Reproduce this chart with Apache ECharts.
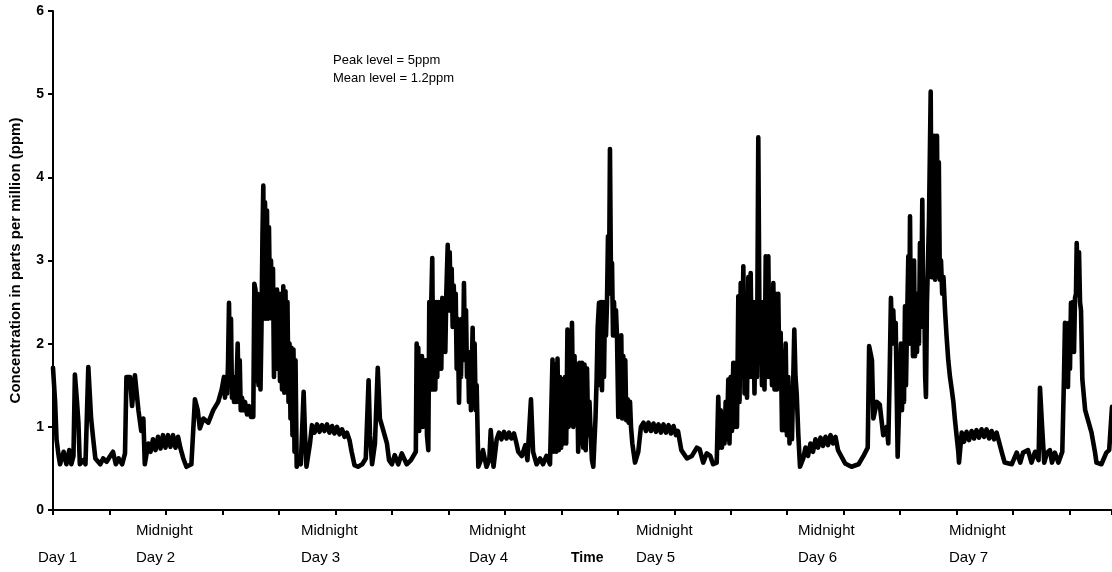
<!DOCTYPE html>
<html>
<head>
<meta charset="utf-8">
<script src="https://cdn.jsdelivr.net/npm/echarts@6/dist/echarts.min.js"></script>
<style>
html,body{margin:0;padding:0;background:#fff;}
#chart{width:1112px;height:572px;}
</style>
</head>
<body>
<div id="chart"></div>
<script>
// [hours since start of record, concentration in ppm]
const readings0to13 = [[0.0,1.71],[0.3,1.3],[0.5,0.85],[0.8,0.65],[1.0,0.55],[1.5,0.7],[1.9,0.55],[2.3,0.72],[2.6,0.55],[2.9,0.65],[3.1,1.63],[3.4,1.3],[3.6,1.05],[3.8,0.55],[4.3,0.6],[4.6,0.55],[5.0,1.72],[5.4,1.1],[5.7,0.85],[6.0,0.62],[6.7,0.55],[7.1,0.62],[7.6,0.58],[8.1,0.65],[8.5,0.7],[8.9,0.55],[9.3,0.62],[9.8,0.55],[10.2,0.68],[10.4,1.6],[10.9,1.6],[11.2,1.25],[11.6,1.62],[12.1,1.2],[12.5,0.95],[12.8,1.1],[13.0,0.55]];
const readings13to24 = [[13.5,0.8],[13.81,0.7],[14.16,0.85],[14.52,0.72],[14.87,0.88],[15.23,0.74],[15.58,0.9],[15.93,0.75],[16.29,0.9],[16.64,0.76],[17.0,0.9],[17.35,0.75],[17.71,0.88],[18.06,0.74],[18.46,0.62],[18.9,0.52],[19.6,0.55],[20.1,1.33],[20.5,1.2],[20.8,0.98],[21.3,1.1],[22.0,1.05],[22.7,1.2],[23.4,1.3],[23.9,1.45]];
const readings24to28 = [[24.22,1.6],[24.36,1.35],[24.5,1.6],[24.65,1.4],[24.79,1.75],[24.93,2.49],[25.07,1.5],[25.21,2.3],[25.35,1.35],[25.5,1.6],[25.64,1.3],[25.78,1.6],[25.92,1.3],[26.16,2.0],[26.3,1.3],[26.45,1.8],[26.59,1.2],[26.77,1.35],[26.95,1.2],[27.2,1.3],[27.48,1.15],[27.76,1.25],[28.04,1.12]];
const readings28to35 = [[28.37,1.12],[28.52,2.72],[28.68,2.65],[28.82,1.55],[28.97,2.6],[29.11,1.5],[29.25,2.55],[29.39,1.45],[29.53,2.2],[29.67,3.3],[29.79,3.9],[29.89,2.3],[30.03,3.7],[30.17,2.3],[30.31,3.6],[30.45,2.3],[30.59,3.4],[30.74,2.4],[30.88,3.0],[31.02,2.3],[31.16,2.9],[31.3,1.6],[31.44,2.5],[31.59,1.8],[31.73,2.65],[31.87,1.7],[32.01,2.6],[32.15,1.55],[32.29,2.6],[32.44,1.45],[32.62,2.69],[32.76,1.41],[32.93,2.63],[33.07,1.45],[33.21,2.5],[33.36,1.3],[33.5,2.0],[33.64,1.1],[33.78,1.95],[33.92,0.9],[34.06,1.93],[34.21,0.7],[34.35,1.8],[34.52,0.52]];
const readings35to51 = [[34.8,0.6],[35.1,0.55],[35.5,1.42],[35.7,0.9],[35.9,0.52],[36.4,0.8],[36.68,1.02],[37.04,0.93],[37.39,1.03],[37.75,0.94],[38.1,1.02],[38.45,0.95],[38.81,1.03],[39.16,0.93],[39.52,1.01],[39.87,0.92],[40.22,1.0],[40.58,0.91],[40.94,0.97],[41.29,0.88],[41.64,0.93],[42.0,0.84],[42.3,0.7],[42.7,0.54],[43.2,0.52],[43.8,0.55],[44.3,0.62],[44.7,1.56],[44.9,0.9],[45.2,0.55],[45.6,0.8],[46.0,1.71],[46.3,1.1],[46.8,0.95],[47.3,0.8],[47.6,0.6],[48.0,0.55],[48.4,0.66],[48.9,0.55],[49.4,0.68],[50.1,0.55],[50.7,0.6]];
const readings51to60 = [[51.39,0.7],[51.51,2.0],[51.63,1.1],[51.74,1.95],[51.87,0.95],[52.01,1.85],[52.12,1.0],[52.26,1.85],[52.41,1.0],[52.55,1.8],[52.69,1.1],[52.83,1.8],[52.97,0.9],[53.16,0.72],[53.3,2.5],[53.44,1.45],[53.58,2.5],[53.72,3.03],[53.86,1.45],[54.01,2.5],[54.15,1.45],[54.29,2.5],[54.43,1.6],[54.57,2.5],[54.72,1.7],[54.86,2.5],[55.0,1.7],[55.14,2.55],[55.28,1.9],[55.42,2.5],[55.57,1.9],[55.71,2.6],[55.91,3.19],[56.05,2.4],[56.19,3.1],[56.33,2.4],[56.47,2.9],[56.61,2.2],[56.76,2.7],[56.9,2.3],[57.04,2.6],[57.18,1.7],[57.32,2.3],[57.51,1.29],[57.65,2.0],[57.79,1.6],[57.93,2.3],[58.07,1.8],[58.21,2.73],[58.36,1.8],[58.5,2.4],[58.64,1.6],[58.78,1.9],[58.92,1.3],[59.06,1.9],[59.2,1.2],[59.44,2.19],[59.58,1.3],[59.72,2.0],[59.87,1.2],[60.01,1.5],[60.24,0.52]];
const readings60to70 = [[60.6,0.6],[60.9,0.72],[61.4,0.52],[61.8,0.6],[62.0,0.96],[62.4,0.52],[62.85,0.85],[63.17,0.93],[63.52,0.85],[63.88,0.94],[64.23,0.86],[64.59,0.93],[64.94,0.86],[65.3,0.92],[65.65,0.8],[65.9,0.7],[66.4,0.65],[66.9,0.78],[67.2,0.6],[67.7,1.33],[68.0,0.7],[68.5,0.55],[69.0,0.62],[69.4,0.55],[69.9,0.65],[70.4,0.55]];
const readings70to77 = [[70.75,1.81],[70.92,0.7],[71.1,1.75],[71.27,0.7],[71.46,1.82],[71.63,0.72],[71.81,1.6],[71.98,0.75],[72.17,1.57],[72.34,0.8],[72.52,1.6],[72.69,0.8],[72.87,2.17],[73.04,1.0],[73.23,2.0],[73.4,1.2],[73.51,2.25],[73.68,1.0],[73.87,1.85],[74.04,1.1],[74.22,1.75],[74.39,0.7],[74.57,1.77],[74.74,0.8],[74.93,1.77],[75.1,0.75],[75.28,1.75],[75.45,0.72],[75.64,1.7],[75.81,0.9],[75.99,1.3],[76.16,0.9],[76.34,0.6],[76.53,0.52]];
const readings77to82 = [[76.84,1.1],[77.01,1.6],[77.15,2.2],[77.34,2.49],[77.48,1.5],[77.62,2.5],[77.76,1.44],[77.9,2.5],[78.04,1.6],[78.19,2.5],[78.33,2.1],[78.47,2.5],[78.61,3.29],[78.75,2.6],[78.89,4.34],[79.04,2.7],[79.18,2.97],[79.32,2.1],[79.46,2.5],[79.6,2.1],[79.74,2.4],[79.89,2.08],[80.07,1.12],[80.21,2.0],[80.35,1.2],[80.49,2.1],[80.63,1.1],[80.78,1.85],[80.92,1.1],[81.06,1.8],[81.2,1.08],[81.4,1.33],[81.54,1.05],[81.73,1.3],[81.87,1.0],[82.06,0.8],[82.44,0.57]];
const readings82to94 = [[82.9,0.7],[83.28,1.0],[83.64,1.05],[83.99,0.95],[84.34,1.05],[84.7,0.95],[85.05,1.04],[85.41,0.94],[85.76,1.03],[86.11,0.93],[86.47,1.03],[86.82,0.93],[87.18,1.02],[87.53,0.92],[87.89,1.01],[88.24,0.9],[88.52,0.95],[89.0,0.72],[89.8,0.62],[90.5,0.65],[91.2,0.75],[91.6,0.73],[92.1,0.57],[92.6,0.68],[93.1,0.65],[93.5,0.55],[94.01,0.57]];
const readings94to106 = [[94.23,1.36],[94.4,0.75],[94.57,1.2],[94.75,0.75],[94.94,1.17],[95.11,0.8],[95.28,1.3],[95.46,0.85],[95.65,1.57],[95.82,0.8],[95.99,1.6],[96.17,0.95],[96.36,1.77],[96.53,1.0],[96.7,1.77],[96.88,1.0],[97.07,2.57],[97.24,1.3],[97.41,2.73],[97.59,1.64],[97.78,2.93],[97.95,1.4],[98.12,2.5],[98.3,1.35],[98.49,2.8],[98.66,1.6],[98.82,2.85],[99.01,1.6],[99.19,2.5],[99.36,1.4],[99.53,2.5],[99.71,1.6],[99.9,4.48],[100.07,2.2],[100.24,2.5],[100.42,1.5],[100.61,2.5],[100.78,1.45],[100.95,3.05],[101.13,1.6],[101.32,3.05],[101.49,1.6],[101.66,2.6],[101.84,1.5],[102.03,2.73],[102.2,1.45],[102.37,2.6],[102.55,1.45],[102.73,2.6],[102.9,1.5],[103.07,2.13],[103.26,0.96],[103.44,1.9],[103.61,0.96],[103.78,2.0],[103.96,0.9],[104.15,1.6],[104.32,0.8],[104.49,1.2],[104.67,0.85],[105.0,2.17],[105.17,1.6],[105.34,1.4],[105.57,0.9],[105.81,0.52]];
const readings106to118 = [[106.27,0.62],[106.58,0.75],[106.94,0.65],[107.29,0.8],[107.65,0.7],[108.0,0.85],[108.36,0.75],[108.71,0.87],[109.06,0.77],[109.42,0.88],[109.77,0.78],[110.13,0.9],[110.48,0.8],[110.84,0.88],[111.19,0.72],[111.5,0.67],[112.2,0.56],[113.1,0.52],[114.1,0.55],[114.8,0.65],[115.4,0.75],[115.6,1.97],[116.0,1.8],[116.2,1.1],[116.7,1.3],[117.1,1.27],[117.6,0.9],[118.1,1.0]];
const readings118to128 = [[118.31,0.8],[118.48,1.5],[118.69,2.55],[118.86,2.0],[119.02,2.4],[119.19,2.0],[119.36,2.25],[119.64,0.64],[119.83,1.2],[119.97,1.6],[120.11,2.0],[120.25,1.2],[120.39,1.6],[120.54,1.3],[120.68,2.45],[120.82,1.5],[120.96,2.2],[121.15,3.05],[121.27,2.0],[121.39,3.53],[121.53,2.0],[121.67,2.6],[121.81,1.85],[121.96,3.0],[122.1,1.85],[122.24,2.6],[122.38,1.9],[122.52,2.6],[122.66,2.0],[122.8,3.21],[122.95,2.2],[123.13,3.73],[123.27,2.2],[123.41,2.6],[123.54,1.6],[123.65,1.36],[123.79,2.5],[123.94,3.0],[124.08,3.5],[124.32,5.03],[124.46,2.8],[124.6,3.2],[124.71,2.8],[124.83,4.5],[124.95,2.77],[125.07,3.5],[125.21,4.5],[125.35,3.0],[125.47,4.18],[125.61,2.77],[125.78,3.0],[125.95,2.6],[126.13,2.8],[126.35,2.4],[126.56,2.1],[126.81,1.8],[127.05,1.6],[127.3,1.45],[127.53,1.3],[127.76,1.08],[128.23,0.7],[128.33,0.57]];
const readings128to142 = [[128.71,0.93],[129.04,0.82],[129.4,0.94],[129.75,0.84],[130.11,0.95],[130.46,0.86],[130.81,0.96],[131.17,0.87],[131.52,0.97],[131.88,0.88],[132.23,0.97],[132.59,0.86],[132.94,0.95],[133.3,0.85],[133.65,0.93],[134.0,0.82],[134.4,0.69],[134.8,0.57],[135.8,0.55],[136.5,0.69],[137.0,0.57],[137.4,0.69],[138.1,0.72],[138.6,0.57],[139.1,0.7],[139.6,0.6],[139.8,1.47],[140.1,1.0],[140.4,0.57],[140.8,0.69],[141.2,0.72],[141.5,0.57],[141.9,0.69],[142.4,0.57]];
const readings143to150 = [[142.96,0.7],[143.2,1.6],[143.34,2.25],[143.48,1.5],[143.62,2.2],[143.76,1.48],[143.91,2.25],[144.05,1.7],[144.19,2.49],[144.33,1.9],[144.47,2.5],[144.62,1.9],[144.76,2.55],[144.9,2.6],[145.0,3.21],[145.14,2.8],[145.33,3.1],[145.47,2.5],[145.61,2.4],[145.8,1.57],[146.2,1.2],[146.6,1.08],[147.1,0.93],[147.6,0.69],[147.8,0.57],[148.5,0.55],[149.2,0.69],[149.6,0.72],[150.0,1.24]];

const yTicks = [0,1,2,3,4,5,6];
const midnightLabels = ['Midnight','Midnight','Midnight','Midnight','Midnight','Midnight'];
const dayLabels = ['Day 1','Day 2','Day 3','Day 4','Day 5','Day 6','Day 7'];
const xAxisTitle = 'Time';
const yAxisTitle = 'Concentration in parts per million (ppm)';
const notes = ['Peak level = 5ppm','Mean level = 1.2ppm'];

const data = [].concat(readings0to13, readings13to24, readings24to28, readings28to35,
  readings35to51, readings51to60, readings60to70, readings70to77, readings77to82,
  readings82to94, readings94to106, readings106to118, readings118to128,
  readings128to142, readings143to150);

const FONT = '"Liberation Sans", Arial, sans-serif';
const chart = echarts.init(document.getElementById('chart'), null, {renderer:'canvas'});

const midX = [136, 301, 469, 636, 798, 949];
const dayX = [38, 136, 301, 469, 636, 798, 949];
const graphics = [];
midnightLabels.forEach((t,i)=>graphics.push({type:'text', left:midX[i], top:523,
  style:{text:t, font:'15px '+FONT, fill:'#000'}}));
dayLabels.forEach((t,i)=>graphics.push({type:'text', left:dayX[i], top:550,
  style:{text:t, font:'15px '+FONT, fill:'#000'}}));
graphics.push({type:'text', left:571, top:551, style:{text:xAxisTitle, font:'bold 14px '+FONT, fill:'#000'}});
graphics.push({type:'text', left:333, top:54, style:{text:notes[0], font:'13px '+FONT, fill:'#000'}});
graphics.push({type:'text', left:333, top:72, style:{text:notes[1], font:'13px '+FONT, fill:'#000'}});

chart.setOption({
  animation:false,
  backgroundColor:'#fff',
  grid:{left:53, right:0, top:11, bottom:62, containLabel:false},
  xAxis:{type:'value', min:0, max:150, interval:8,
    axisLine:{show:true, onZero:false, lineStyle:{color:'#000', width:2}},
    axisTick:{show:true, inside:false, length:5, lineStyle:{color:'#000', width:2}},
    axisLabel:{show:false}, splitLine:{show:false}},
  yAxis:{type:'value', min:yTicks[0], max:yTicks[yTicks.length-1], interval:1,
    name:yAxisTitle, nameLocation:'middle', nameGap:30,
    nameTextStyle:{fontFamily:FONT, fontWeight:'bold', fontSize:15, color:'#000'},
    axisLine:{show:true, lineStyle:{color:'#000', width:2}},
    axisTick:{show:true, inside:false, length:5, lineStyle:{color:'#000', width:2}},
    axisLabel:{show:true, margin:9, fontFamily:FONT, fontWeight:'bold', fontSize:14, color:'#000'},
    splitLine:{show:false}},
  series:[{type:'line', data:data, showSymbol:false, symbol:'none', smooth:false,
    lineStyle:{color:'#000', width:4.6, join:'round', cap:'round'}, z:3}],
  graphic:graphics
});
</script>
</body>
</html>
